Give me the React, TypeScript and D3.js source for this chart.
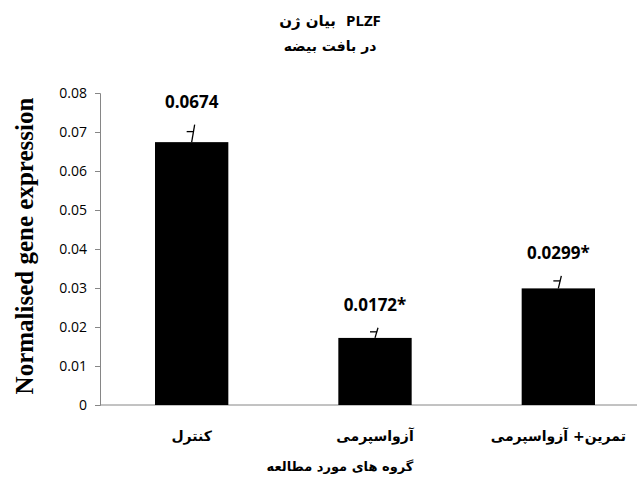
import { useEffect, useRef } from 'react'
import * as d3 from 'd3'

const groups = ['کنترل', 'آزواسپرمی', 'تمرین+ آزواسپرمی']
const means = [0.0674, 0.0172, 0.0299]
const errors = [0.0045, 0.0026, 0.0032]
const valueLabels = ['0.0674', '0.0172*', '0.0299*']
const yTicks = [0, 0.01, 0.02, 0.03, 0.04, 0.05, 0.06, 0.07, 0.08]

export default function App() {
  const svgRef = useRef<SVGSVGElement>(null)

  useEffect(() => {
    if (!svgRef.current) return
    const W = 637, H = 488
    const svg = d3.select(svgRef.current)
    svg.selectAll('*').remove()
    svg.attr('width', W).attr('height', H)

    const faText = 'DejaVu Sans, Noto Sans, sans-serif'
    const numFont = 'Open Sans, Liberation Sans, sans-serif'

    const x = d3.scaleBand().domain(groups).range([100, 650]).paddingInner(0.6).paddingOuter(0.3)
    const y = d3.scaleLinear().domain([0, 0.08]).range([405, 93])

    // y axis
    svg.append('g').attr('transform', 'translate(100,0)')
      .call(d3.axisLeft(y).tickValues(yTicks).tickSize(5).tickPadding(8)
        .tickFormat(d => (d === 0 ? '0' : d3.format('.2f')(d as number))))
      .call(ax => {
        ax.select('.domain').attr('stroke', '#868686')
        ax.selectAll('line').attr('stroke', '#868686')
        ax.selectAll('text').attr('fill', '#000').attr('font-size', 14).attr('font-family', numFont)
      })

    // x axis line
    svg.append('line').attr('x1', 100).attr('x2', 637).attr('y1', y(0)).attr('y2', y(0))
      .attr('stroke', '#868686')

    const data = groups.map((g, i) => ({ g, v: means[i], e: errors[i], lab: valueLabels[i] }))

    svg.append('g').selectAll('rect').data(data).join('rect')
      .attr('x', d => x(d.g)!)
      .attr('width', x.bandwidth())
      .attr('y', d => y(d.v))
      .attr('height', d => y(0) - y(d.v))
      .attr('fill', '#000')

    // error bars
    const eb = svg.append('g').selectAll('g').data(data).join('g')
    eb.append('line')
      .attr('x1', d => x(d.g)! + x.bandwidth() / 2)
      .attr('x2', d => x(d.g)! + x.bandwidth() / 2 + 3)
      .attr('y1', d => y(d.v))
      .attr('y2', d => y(d.v + d.e))
      .attr('stroke', '#000').attr('stroke-width', 1.3)
    eb.append('line')
      .attr('x1', d => x(d.g)! + x.bandwidth() / 2 - 5)
      .attr('x2', d => x(d.g)! + x.bandwidth() / 2 + 2)
      .attr('y1', d => y(d.v + d.e * 0.6))
      .attr('y2', d => y(d.v + d.e * 0.6))
      .attr('stroke', '#000').attr('stroke-width', 1.3)

    // value labels
    svg.append('g').selectAll('text').data(data).join('text')
      .attr('x', d => x(d.g)! + x.bandwidth() / 2)
      .attr('y', d => y(d.v + d.e) - 17)
      .attr('text-anchor', 'middle')
      .attr('font-family', numFont).attr('font-weight', 'bold').attr('font-size', 17)
      .text(d => d.lab)

    // category labels
    svg.append('g').selectAll('text').data(groups).join('text')
      .attr('x', d => x(d)! + x.bandwidth() / 2)
      .attr('y', 441)
      .attr('text-anchor', 'middle')
      .attr('direction', 'rtl')
      .attr('font-family', faText).attr('font-weight', 'bold').attr('font-size', 14)
      .text(d => d)

    // titles
    const t1 = svg.append('text').attr('x', 330).attr('y', 26).attr('text-anchor', 'middle')
      .attr('font-weight', 'bold')
    t1.append('tspan').attr('font-family', faText).attr('font-size', 15).text('بیان ژن')
    t1.append('tspan').attr('font-family', numFont).attr('font-size', 15).attr('dx', 10).text('PLZF')
    svg.append('text').attr('x', 330).attr('y', 51).attr('text-anchor', 'middle')
      .attr('font-family', faText).attr('font-weight', 'bold').attr('font-size', 14)
      .text('در بافت بیضه')
    svg.append('text').attr('x', 340).attr('y', 471).attr('text-anchor', 'middle')
      .attr('font-family', faText).attr('font-weight', 'bold').attr('font-size', 13)
      .text('گروه های مورد مطالعه')

    svg.append('text')
      .attr('transform', 'translate(33,246) rotate(-90)')
      .attr('text-anchor', 'middle')
      .attr('font-family', 'Liberation Serif, Times New Roman, serif')
      .attr('font-weight', 'bold').attr('font-size', 25)
      .text('Normalised gene expression')
  }, [])

  return (
    <div style={{ position: 'absolute', left: 0, top: 0, width: 637, height: 488, background: '#fff' }}>
      <svg ref={svgRef} style={{ display: 'block' }} />
    </div>
  )
}
